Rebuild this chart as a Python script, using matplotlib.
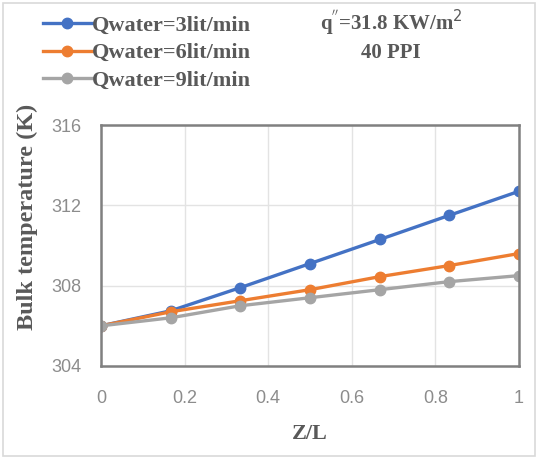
import matplotlib
matplotlib.use("Agg")
import matplotlib.pyplot as plt
from matplotlib.patches import Rectangle

# data
z_l = [0, 0.167, 0.333, 0.5, 0.667, 0.833, 1]
t_3lit = [306.0, 306.75, 307.9, 309.1, 310.3, 311.5, 312.7]
t_6lit = [306.0, 306.7, 307.25, 307.8, 308.45, 309.0, 309.6]
t_9lit = [306.0, 306.4, 307.0, 307.4, 307.8, 308.2, 308.5]
labels = ["Qwater=3lit/min", "Qwater=6lit/min", "Qwater=9lit/min"]
colors = ["#4472C4", "#ED7D31", "#A5A5A5"]
y_ticks = [304, 308, 312, 316]
x_ticks = [0, 0.2, 0.4, 0.6, 0.8, 1]

serif = "Liberation Serif"
W, H = 538, 459

fig = plt.figure(figsize=(W / 100, H / 100), dpi=100)
ax = fig.add_axes([101 / W, 1 - 366 / H, 418 / W, 241 / H])

for ys, lab, c in zip([t_3lit, t_6lit, t_9lit], labels, colors):
    ax.plot(z_l, ys, color=c, lw=2.4, marker="o", ms=7.5, label=lab)

ax.set_xlim(0, 1)
ax.set_ylim(304, 316)
ax.set_xticks(x_ticks)
ax.set_xticklabels(["0", "0.2", "0.4", "0.6", "0.8", "1"])
ax.set_yticks(y_ticks)
ax.grid(True, color="#E3E3E3", lw=1)
ax.set_axisbelow(True)
ax.tick_params(length=0, labelsize=13, labelcolor="#8C8C8C")
ax.tick_params(axis="x", pad=17)
ax.tick_params(axis="y", pad=14)
for lbl in ax.get_xticklabels() + ax.get_yticklabels():
    lbl.set_family("Liberation Sans")
for s in ax.spines.values():
    s.set_color("#808080")
    s.set_linewidth(1.8)

fig.text(310 / W, 1 - 434 / H, "Z/L", ha="center", va="center",
         fontfamily=serif, fontweight="bold", fontsize=16, color="#595959")
fig.text(27 / W, 1 - 217 / H, "Bulk temperature (K)", ha="center", va="center",
         rotation=90, fontfamily=serif, fontweight="bold", fontsize=17.5,
         color="#595959")

leg = fig.legend(loc="upper left", bbox_to_anchor=(34 / W, 1 - 6 / H),
                 frameon=False, prop={"family": serif, "weight": "bold", "size": 16},
                 handlelength=2.2, handletextpad=0.0, labelspacing=0.33,
                 borderaxespad=0)
for t in leg.get_texts():
    t.set_color("#595959")

fig.text(391 / W, 1 - 22 / H, "q$^{''}$=31.8 KW/m$^2$", ha="center", va="center",
         fontfamily=serif, fontweight="bold", fontsize=15, color="#595959")
fig.text(391 / W, 1 - 53 / H, "40 PPI", ha="center", va="center",
         fontfamily=serif, fontweight="bold", fontsize=15, color="#595959")

fig.patches.append(Rectangle((3 / W, 3 / H), 532 / W, 453 / H,
                             transform=fig.transFigure, fill=False,
                             edgecolor="#D9D9D9", lw=1.2))

fig.savefig("out.png", dpi=100)
